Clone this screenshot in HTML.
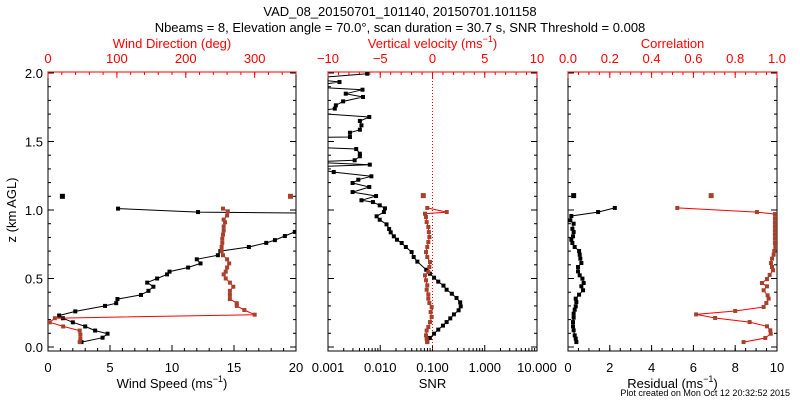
<!DOCTYPE html>
<html><head><meta charset="utf-8"><style>
html,body{margin:0;padding:0;background:#fff;}
svg{display:block;font-family:"Liberation Sans",sans-serif;}
</style></head><body>
<svg id="c" width="800" height="400" xmlns="http://www.w3.org/2000/svg">
<text x="400" y="16" text-anchor="middle" font-size="13">VAD_08_20150701_101140, 20150701.101158</text>
<text x="400" y="32" text-anchor="middle" font-size="13">Nbeams = 8, Elevation angle = 70.0°, scan duration = 30.7 s, SNR Threshold = 0.008</text>
<text transform="translate(16,210) rotate(-90)" text-anchor="middle" font-size="13">z (km AGL)</text>
<text x="790" y="396" text-anchor="end" font-size="9">Plot created on Mon Oct 12 20:32:52 2015</text>
</svg>
<script>
// ---- data (z in km AGL) ----
const speedZ=[0.036,0.068,0.097,0.12,0.15,0.18,0.21,0.23,0.26,0.30,0.32,0.35,0.38,0.41,0.44,0.47,0.50,0.53,0.55,0.58,0.61,0.64,0.67,0.70,0.73,0.76,0.78,0.81,0.84,0.90,0.97,0.985,1.01];
const speedVals=[2.7,4.4,4.8,3.8,3.0,2.0,1.2,0.9,2.2,4.6,5.5,5.6,7.5,8.1,8.5,8.0,8.8,9.6,9.8,11.3,12.3,12.0,13.7,13.9,16.2,17.6,18.3,19.1,19.9,26,30,12.1,5.65];
const speedIsoZ=[1.10];const speedIso=[1.16];
const dirZ=[0.036,0.06,0.09,0.12,0.15,0.18,0.21,0.236,0.27,0.30,0.32,0.35,0.38,0.41,0.44,0.47,0.50,0.53,0.55,0.58,0.61,0.64,0.67,0.70,0.73,0.76,0.79,0.82,0.85,0.88,0.91,0.93,0.96,0.99,1.01];
const dirVals=[46,47,47,46,22,2.4,10,300,285,274,274,264,264,264,269,264,258,255,258,260,263,260,254,252,252,253,253,254,255,255,257,255,260,261,254];
const dirIsoZ=[1.10];const dirIso=[352];
const snrZ=[0.036,0.066,0.097,0.127,0.156,0.182,0.209,0.238,0.268,0.297,0.326,0.358,0.389,0.418,0.448,0.477,0.506,0.535,0.564,0.623,0.657,0.693,0.730,0.759,0.783,0.808,0.837,0.861,0.895,0.929,0.954,0.985,1.012,1.034,1.058,1.071,1.102,1.131,1.168,1.197,1.221,1.246,1.277,1.314,1.331,1.350,1.363,1.392,1.411,1.445,1.46,1.53,1.533,1.564,1.586,1.618,1.650,1.679,1.71,1.740,1.764,1.793,1.825,1.849,1.878,1.90,1.934,1.96,1.995];
const snrLog=[-1.10,-1.05,-0.97,-0.89,-0.80,-0.73,-0.66,-0.59,-0.50,-0.46,-0.47,-0.54,-0.63,-0.73,-0.79,-0.89,-0.97,-1.05,-1.12,-1.29,-1.36,-1.40,-1.51,-1.59,-1.68,-1.74,-1.80,-1.83,-1.88,-2.01,-2.07,-1.93,-1.91,-2.01,-2.14,-2.36,-2.08,-2.53,-2.21,-2.53,-2.42,-2.17,-2.89,-3.4,-2.20,-3.4,-2.49,-2.39,-2.39,-2.46,-3.4,-3.4,-2.58,-2.58,-2.39,-2.36,-2.39,-2.21,-3.4,-2.87,-2.85,-2.71,-2.33,-2.66,-2.34,-3.4,-2.78,-3.4,-2.25];
const wZ=[0.036,0.06,0.085,0.12,0.146,0.182,0.219,0.255,0.292,0.321,0.353,0.384,0.418,0.450,0.487,0.523,0.547,0.584,0.620,0.657,0.693,0.730,0.766,0.803,0.839,0.876,0.912,0.949,0.973,0.985,1.015];
const wVals=[-0.5,-0.56,-0.62,-0.56,-0.4,-0.24,-0.08,-0.18,-0.08,-0.3,-0.4,-0.4,-0.56,-0.5,-0.62,-0.72,-0.4,-0.3,-0.24,-0.5,-0.62,-0.5,-0.4,-0.3,-0.35,-0.4,-0.56,-0.62,-0.72,1.36,-0.5];
const wIsoZ=[1.105];const wIso=[-0.88];
const resZ=[0.036,0.061,0.085,0.122,0.151,0.182,0.214,0.243,0.272,0.297,0.328,0.353,0.382,0.414,0.443,0.467,0.499,0.523,0.552,0.584,0.613,0.645,0.674,0.701,0.730,0.759,0.783,0.808,0.839,0.863,0.900,0.925,0.956,0.985,1.015];
const resVals=[0.4,0.37,0.32,0.27,0.24,0.24,0.27,0.27,0.32,0.37,0.4,0.37,0.53,0.72,0.64,0.75,0.69,0.56,0.48,0.48,0.64,0.59,0.56,0.53,0.32,0.21,0.16,0.24,0.27,0.21,0.27,0.11,0.16,1.44,2.24];
const resIsoZ=[1.105];const resIso=[0.27];
const corZ=[0.036,0.066,0.097,0.122,0.151,0.182,0.212,0.238,0.263,0.292,0.321,0.353,0.377,0.414,0.443,0.467,0.496,0.526,0.560,0.584,0.613,0.645,0.674,0.701,0.730,0.759,0.79,0.82,0.85,0.88,0.91,0.94,0.97,0.985,1.015];
const corVals=[0.84,0.944,0.97,0.968,0.952,0.869,0.704,0.613,0.80,0.936,0.949,0.96,0.955,0.936,0.952,0.928,0.952,0.965,0.981,0.976,0.971,0.976,0.984,0.987,0.992,0.99,0.99,0.99,0.99,0.99,0.99,0.99,0.99,0.904,0.523];
const corIsoZ=[1.105];const corIso=[0.685];
const zTicks=["0.0","0.5","1.0","1.5","2.0"];

const NS="http://www.w3.org/2000/svg";
const svg=document.getElementById('c');
const TOP=72,BOT=351;
const yz=z=>347-z*137;
const RED="#ff0000",BROWN="#a8402c";
function el(tag,attrs,parent){const e=document.createElementNS(NS,tag);for(const k in attrs)e.setAttribute(k,attrs[k]);(parent||svg).appendChild(e);return e;}
function txt(x,y,s,anchor,fill,size,parent){const t=el('text',{x:x,y:y,'text-anchor':anchor,fill:fill,'font-size':size},parent);t.textContent=s;return t;}

const panels=[{L:48,R:296},{L:328,R:537},{L:568,R:777}];
panels.forEach((p,i)=>{
  const g=el('g',{});
  
  
  const cp=el('clipPath',{id:'clip'+i},g);el('rect',{x:p.L,y:TOP,width:p.R-p.L,height:BOT-TOP},cp);
  const fr=el('rect',{x:p.L,y:TOP,width:p.R-p.L,height:BOT-TOP,fill:'none',stroke:'#000','stroke-width':1},g);
  
  
  fr.setAttribute('stroke','#000');
  el('line',{x1:p.L,y1:TOP,x2:p.R,y2:TOP,stroke:RED},g);
  for(let k=0;k<=20;k++){const z=k*0.1,y=yz(z),len=k%5==0?6:3;
    el('line',{x1:p.L,y1:y,x2:p.L+len,y2:y,stroke:'#000'},g);
    el('line',{x1:p.R,y1:y,x2:p.R-len,y2:y,stroke:'#000'},g);}
  p.g=g;
});
zTicks.forEach((s,k)=>{const t=txt(43,yz(k*0.5)+5,s,'end','#000',13);});

function linAxis(p,min,max,majors,minorStep,labels,top,title){
  const sx=v=>p.L+(v-min)/(max-min)*(p.R-p.L);
  const col=top?RED:'#000',y0=top?TOP:BOT,d=top?1:-1;
  for(let v=min;v<=max+1e-9;v+=minorStep){el('line',{x1:sx(v),y1:y0,x2:sx(v),y2:y0+d*3,stroke:col},p.g);}
  majors.forEach((v,k)=>{el('line',{x1:sx(v),y1:y0,x2:sx(v),y2:y0+d*6,stroke:col},p.g);
    const t=txt(sx(v),top?63:372,labels[k],'middle',col,13,p.g);
    });
  const tt=txt((p.L+p.R)/2,top?48:388,'','middle',col,13,p.g);
  tt.innerHTML=title;
  
  
  return sx;
}
const sup='<tspan font-size="9" dy="-6">−1</tspan><tspan dy="6">)</tspan>';
const xSpeed=linAxis(panels[0],0,20,[0,5,10,15,20],1,["0","5","10","15","20"],false,'Wind Speed (ms'+sup);
const xDir=linAxis(panels[0],0,360,[0,100,200,300],20,["0","100","200","300"],true,'Wind Direction (deg)');
const xW=linAxis(panels[1],-10,10,[-10,-5,0,5,10],1,["−10","−5","0","5","10"],true,'Vertical velocity (ms'+sup);
const xRes=linAxis(panels[2],0,10,[0,2,4,6,8,10],0.5,["0","2","4","6","8","10"],false,'Residual (ms'+sup);
const xCor=linAxis(panels[2],0,1,[0,0.2,0.4,0.6,0.8,1],0.05,["0.0","0.2","0.4","0.6","0.8","1.0"],true,'Correlation');
// log SNR axis
const p2=panels[1];
const xSnr=lv=>p2.L+(lv+3)/4*(p2.R-p2.L);
for(let d=-3;d<1;d++)for(let m=1;m<10;m++){const x=xSnr(d+Math.log10(m));el('line',{x1:x,y1:BOT,x2:x,y2:BOT-(m==1?6:3),stroke:'#000'},p2.g);}
["0.001","0.010","0.100","1.000","10.000"].forEach((s,k)=>{const t=txt(xSnr(k-3),372,s,'middle','#000',13,p2.g);});
{const t=txt((p2.L+p2.R)/2,388,'SNR','middle','#000',13,p2.g);}
el('line',{x1:xW(0),y1:TOP,x2:xW(0),y2:BOT,stroke:RED,'stroke-dasharray':'1,2'},p2.g);

function series(pi,xs,zs,vals,lineCol,markCol,name,isoX,isoZ){
  const p=panels[pi];const g=el('g',{'clip-path':'url(#clip'+pi+')'},p.g);
  
  
  const pts=vals.map((v,k)=>xs(v).toFixed(1)+','+yz(zs[k]).toFixed(1)).join(' ');
  el('polyline',{points:pts,fill:'none',stroke:lineCol,'stroke-width':1},g);
  vals.forEach((v,k)=>{const m=el('rect',{x:xs(v)-2,y:yz(zs[k])-2,width:4,height:4,fill:markCol},g);
    
    });
  if(isoX)isoX.forEach((v,k)=>{const m=el('rect',{x:xs(v)-2.5,y:yz(isoZ[k])-2.5,width:5,height:5,fill:markCol},g);
    
    });
}
series(0,xSpeed,speedZ,speedVals,'#000','#000','wind-speed-series',speedIso,speedIsoZ);
series(0,xDir,dirZ,dirVals,RED,BROWN,'wind-direction-series',dirIso,dirIsoZ);
series(1,xSnr,snrZ,snrLog,'#000','#000','snr-series');
series(1,xW,wZ,wVals,RED,BROWN,'vertical-velocity-series',wIso,wIsoZ);
series(2,xRes,resZ,resVals,'#000','#000','residual-series',resIso,resIsoZ);
series(2,xCor,corZ,corVals,RED,BROWN,'correlation-series',corIso,corIsoZ);
</script>
</body></html>
